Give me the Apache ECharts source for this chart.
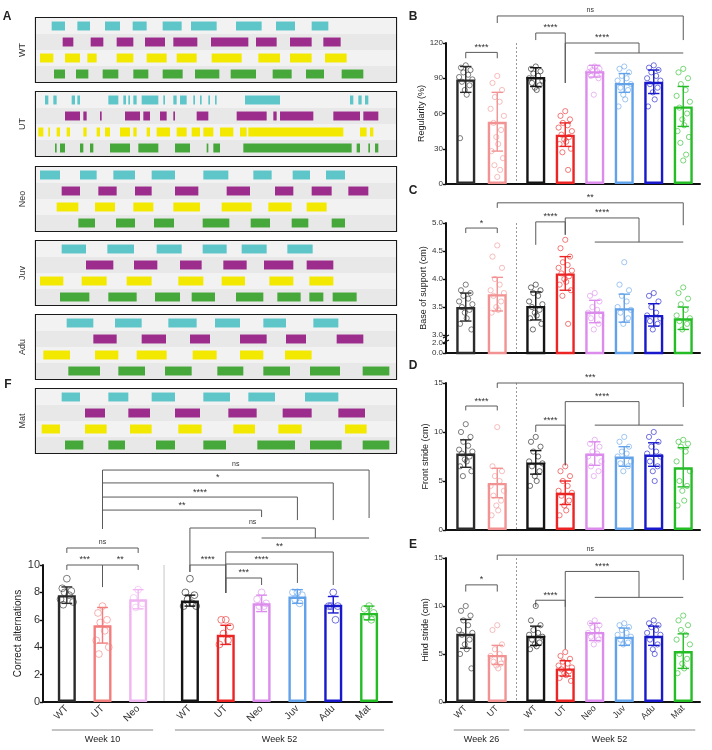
<!DOCTYPE html>
<html lang="en">
<head>
<meta charset="utf-8" />
<title>Gait and spontaneous alternation</title>
<script src="https://cdn.jsdelivr.net/npm/echarts@6/dist/echarts.min.js"></script>
<style>
  html, body { margin: 0; padding: 0; background: #fff; }
  #main { width: 712px; height: 750px; }
</style>
</head>
<body>
<div id="main"></div>
<script>
// ---------- A: footfall patterns, [start, end] per paw row (time units 0-108) ----------
const stepGroups = ['WT', 'UT', 'Neo', 'Juv', 'Adu', 'Mat'];
const pawRows = ['paw 1', 'paw 2', 'paw 3', 'paw 4'];

const stepsWT = [
  [[4.7,8.7],[12.4,16.2],[20.7,25.2],[29.0,33.2],[38.0,43.7],[46.5,54.2],[60.0,67.7],[72.0,77.7],[82.7,87.7]],
  [[8.0,11.2],[16.4,20.2],[24.2,29.2],[32.7,38.7],[41.2,48.4],[52.5,63.7],[66.0,72.2],[76.2,82.7],[86.2,91.4]],
  [[1.2,5.2],[8.7,13.2],[15.4,18.2],[24.2,29.2],[33.2,39.2],[42.2,48.2],[52.7,61.7],[66.7,73.2],[76.2,82.7],[86.7,93.2]],
  [[5.4,8.7],[12.0,15.7],[20.0,24.7],[29.2,33.7],[38.0,44.0],[47.7,55.0],[58.4,66.0],[71.0,76.7],[81.0,86.4],[91.7,98.2]]
];
const stepsUT = [
  [[2.7,3.7],[5.2,6.2],[10.7,11.7],[12.4,13.2],[21.7,24.7],[26.2,27.0],[27.7,28.2],[29.2,30.2],[31.7,36.7],[38.2,38.7],[41.2,42.2],[43.2,45.2],[47.2,47.7],[49.2,49.7],[51.7,52.2],[53.7,54.2],[62.7,73.2],[94.2,95.2],[96.7,97.7],[98.7,99.7]],
  [[8.7,13.2],[14.2,15.2],[19.2,19.7],[26.7,31.2],[32.2,34.2],[37.2,39.2],[41.2,41.7],[48.2,51.7],[60.2,69.2],[71.2,72.2],[73.2,83.2],[89.2,97.2],[98.2,102.7]],
  [[0.7,2.2],[3.7,4.2],[6.2,7.2],[9.2,10.2],[14.2,15.2],[18.2,19.2],[20.7,22.2],[25.2,28.2],[29.2,30.2],[33.2,34.2],[36.2,40.2],[42.2,45.2],[46.7,49.2],[50.2,53.2],[55.2,59.2],[61.2,63.2],[63.7,92.2],[97.2,99.2],[100.2,101.2]],
  [[5.7,6.2],[7.2,8.7],[13.2,14.2],[16.2,17.2],[22.2,28.2],[30.7,36.7],[41.7,46.2],[51.2,51.7],[53.2,55.2],[62.2,94.7],[96.2,97.2],[99.7,100.2],[101.7,102.7]]
];
const stepsNeo = [
  [[1.2,7.2],[13.2,18.2],[23.2,29.7],[34.7,41.7],[50.2,57.7],[65.2,70.7],[77.0,82.2],[87.0,92.7]],
  [[7.7,13.2],[18.7,24.2],[29.7,34.7],[41.7,48.7],[57.2,64.2],[71.7,77.2],[82.7,88.7],[93.7,99.7]],
  [[6.2,12.7],[17.7,23.7],[29.2,35.2],[41.2,49.2],[55.7,64.7],[69.7,76.7],[81.2,87.2]],
  [[12.7,17.7],[24.0,29.7],[35.4,41.4],[50.0,58.0],[64.4,70.2],[76.7,81.7],[88.7,92.7]]
];
const stepsJuv = [
  [[7.7,15.0],[21.4,29.4],[36.2,43.7],[50.0,57.2],[61.7,69.2],[75.4,83.0]],
  [[15.0,23.2],[29.4,36.4],[43.2,49.7],[56.2,63.2],[68.4,77.2],[81.2,89.2]],
  [[1.2,8.2],[13.7,21.2],[27.2,34.7],[42.7,50.2],[55.7,62.7],[70.0,77.2],[82.0,89.2]],
  [[7.2,16.0],[21.7,30.2],[35.7,43.2],[46.7,53.7],[60.0,68.2],[72.4,79.4],[82.0,86.2],[89.0,96.2]]
];
const stepsAdu = [
  [[9.2,17.2],[23.7,31.7],[39.7,48.2],[53.7,61.2],[68.2,75.0],[83.2,90.7]],
  [[17.2,24.2],[31.7,39.0],[46.2,52.2],[61.2,69.2],[75.0,81.0],[90.2,98.2]],
  [[2.2,10.2],[17.7,24.7],[30.2,39.2],[47.0,54.2],[61.2,68.2],[74.7,82.7]],
  [[9.7,19.2],[24.7,32.7],[38.7,46.7],[54.4,62.2],[68.2,76.2],[82.2,91.2],[98.0,106.0]]
];
const stepsMat = [
  [[7.7,13.2],[21.7,27.7],[34.7,41.7],[50.2,58.2],[63.7,71.7],[80.7,90.7]],
  [[14.7,20.7],[27.7,34.2],[41.7,49.2],[57.7,66.2],[74.0,82.7],[90.7,98.7]],
  [[1.7,7.2],[14.7,21.2],[28.2,34.7],[42.7,49.7],[59.2,65.7],[72.7,79.7],[92.7,99.2]],
  [[8.7,14.2],[21.7,26.7],[36.0,41.7],[50.2,57.0],[66.4,77.7],[82.2,91.7],[98.0,106.0]]
];
const allSteps = [stepsWT, stepsUT, stepsNeo, stepsJuv, stepsAdu, stepsMat];

// ---------- B-E: gait parameters ----------
const week26 = ['WT', 'UT'];
const week52 = ['WT', 'UT', 'Neo', 'Juv', 'Adu', 'Mat'];

const regMean26 = [89, 53];
const regSd26 = [11, 25];
const regMean52 = [91, 42, 96, 86, 87, 66];
const regSd52 = [8, 10, 5, 8, 10, 17];
const regPts26 = [
  [101, 99, 97, 95, 93, 91, 89, 87, 84, 80, 76, 39],
  [92, 86, 80, 74, 70, 64, 58, 52, 46, 40, 34, 28, 22, 16, 12, 6]
];
const regPts52 = [
  [100, 98, 96, 94, 92, 90, 88, 86, 84, 82, 80],
  [62, 58, 55, 52, 50, 48, 45, 42, 40, 38, 36, 34, 30, 27, 12],
  [100, 99, 98, 97, 96, 95, 94, 92, 90, 76],
  [100, 98, 95, 92, 90, 88, 85, 82, 80, 76, 72, 66],
  [101, 99, 97, 95, 92, 90, 88, 85, 82, 78, 72, 66],
  [98, 95, 90, 85, 80, 75, 70, 65, 60, 55, 50, 45, 40, 35, 25, 20]
];

const bosMean26 = [3.5, 3.73];
const bosSd26 = [0.25, 0.3];
const bosMean52 = [3.52, 4.1, 3.42, 3.48, 3.36, 3.3];
const bosSd52 = [0.25, 0.3, 0.2, 0.25, 0.2, 0.2];
const bosPts26 = [
  [3.9, 3.8, 3.75, 3.7, 3.65, 3.6, 3.55, 3.5, 3.45, 3.4, 3.3, 3.2, 3.1],
  [4.6, 4.4, 4.2, 4.0, 3.9, 3.8, 3.75, 3.7, 3.6, 3.5, 3.45, 3.4]
];
const bosPts52 = [
  [3.9, 3.85, 3.8, 3.75, 3.7, 3.6, 3.55, 3.5, 3.45, 3.4, 3.35, 3.3, 3.2, 3.1],
  [4.7, 4.55, 4.4, 4.3, 4.25, 4.2, 4.15, 4.1, 4.05, 4.0, 3.95, 3.9, 3.8, 3.7, 3.2],
  [3.75, 3.7, 3.6, 3.5, 3.45, 3.4, 3.35, 3.3, 3.2, 3.1],
  [4.3, 3.9, 3.8, 3.7, 3.6, 3.5, 3.45, 3.4, 3.3, 3.2],
  [3.75, 3.7, 3.6, 3.5, 3.4, 3.35, 3.3, 3.25, 3.2, 3.1],
  [3.85, 3.75, 3.65, 3.55, 3.45, 3.35, 3.3, 3.25, 3.2, 3.1]
];

const frontMean26 = [7.8, 4.8];
const frontSd26 = [1.4, 1.5];
const frontMean52 = [6.9, 3.8, 7.8, 7.5, 7.7, 6.4];
const frontSd52 = [1.2, 1.2, 1.2, 1.0, 1.2, 2.0];
const frontPts26 = [
  [10.8, 10, 9.5, 9, 8.6, 8.2, 8, 7.8, 7.5, 7.2, 7, 6.5, 6, 5.5],
  [10.5, 6.5, 6, 5.5, 5, 4.5, 4, 3.5, 3, 2.5, 2, 1.5]
];
const frontPts52 = [
  [9.5, 9, 8.5, 8, 7.5, 7, 6.8, 6.5, 6, 5.5, 5, 4.5],
  [6.5, 6, 5.5, 5, 4.5, 4, 3.8, 3.5, 3, 2.5, 2, 1.5],
  [9.2, 8.8, 8.5, 8, 7.8, 7.5, 7, 6.5, 6, 5.5],
  [9.5, 9, 8.5, 8, 7.8, 7.5, 7, 6.8, 6.5, 6],
  [10, 9.5, 9, 8.5, 8, 7.8, 7.5, 7, 6.5, 6, 5],
  [9.2, 9, 8.8, 8.5, 8, 7, 6, 5, 4.5, 4, 3, 2.5]
];

const hindMean26 = [7.1, 4.9];
const hindSd26 = [1.5, 1.0];
const hindMean52 = [6.9, 3.5, 7.3, 6.8, 6.9, 5.3];
const hindSd52 = [1.0, 0.8, 0.9, 0.9, 1.0, 1.8];
const hindPts26 = [
  [10, 9.5, 9, 8.5, 8, 7.5, 7.2, 7, 6.5, 6, 5.5, 5, 3.5],
  [8, 7.5, 6, 5.5, 5, 4.8, 4.5, 4.2, 4, 3.8, 3.5]
];
const hindPts52 = [
  [10, 8.5, 8, 7.5, 7.2, 7, 6.8, 6.5, 6.2, 6, 5.8, 5.5],
  [5.2, 4.8, 4.5, 4.2, 4, 3.8, 3.6, 3.4, 3.2, 3, 2.8, 2.5, 2.2],
  [8.5, 8.2, 8, 7.8, 7.5, 7.2, 7, 6.8, 6.5, 6],
  [8.2, 8, 7.8, 7.5, 7.2, 7, 6.8, 6.5, 6.2, 6],
  [8.5, 8.2, 8, 7.8, 7.5, 7.2, 7, 6.5, 6, 5.5, 5],
  [9, 8.5, 8, 7.5, 7, 6.5, 6, 5, 4.5, 4, 3.5, 3]
];

// ---------- F: correct alternations ----------
const week10 = ['WT', 'UT', 'Neo'];
const altMean10 = [7.8, 5.6, 7.5];
const altSd10 = [0.6, 1.3, 0.7];
const altMean52 = [7.4, 4.9, 7.2, 7.7, 7.1, 6.5];
const altSd52 = [0.4, 0.7, 0.6, 0.5, 0.6, 0.5];
const altPts10 = [
  [9, 8.3, 8.1, 8, 7.8, 7.5, 7.3, 7.1],
  [7, 6.5, 6, 5.8, 5.2, 4.5, 4, 3.5],
  [8.2, 7.6, 7.2, 6.9]
];
const altPts52 = [
  [9, 8, 7.8, 7.5, 7.2, 7, 7],
  [6, 6, 5.5, 5, 4.5, 4.2],
  [8, 7.5, 7.2, 7, 7],
  [8, 8, 7.8, 7.5, 7.2],
  [8, 7, 7, 7, 6],
  [7, 6.8, 6.5, 6.2, 6]
];

// significance brackets: ends as [side, category] (or [side, [from, to]] for a group),
// y = bracket level, ya / yb = where the left / right legs stop
const sigB = [
  { a: ['L', 0], b: ['L', 1], y: 112, ya: 107, yb: 107, t: '****' },
  { a: ['L', 1], b: ['R', 5], y: 143, ya: 137, yb: 122.5, t: 'ns' },
  { a: ['R', 0], b: ['R', 1], y: 128.5, ya: 122.5, yb: 86, t: '****' },
  { a: ['R', 1], b: ['R', [2, 5]], y: 120, ya: 86, yb: 111.5, t: '****' }
];
const sigC = [
  { a: ['L', 0], b: ['L', 1], y: 4.91, ya: 4.82, yb: 4.82, t: '*' },
  { a: ['L', 1], b: ['R', 5], y: 5.36, ya: 5.27, yb: 4.96, t: '**' },
  { a: ['R', 0], b: ['R', 1], y: 5.02, ya: 4.61, yb: 4.79, t: '****' },
  { a: ['R', 1], b: ['R', [2, 5]], y: 5.09, ya: 4.79, yb: 4.66, t: '****' }
];
const sigD = [
  { a: ['L', 0], b: ['L', 1], y: 12.65, ya: 12.2, yb: 12.2, t: '****' },
  { a: ['L', 1], b: ['R', 5], y: 15.0, ya: 14.5, yb: 12.55, t: '***' },
  { a: ['R', 0], b: ['R', 1], y: 10.7, ya: 10.0, yb: 6.6, t: '****' },
  { a: ['R', 1], b: ['R', [2, 5]], y: 13.1, ya: 6.6, yb: 10.7, t: '****' }
];
const sigE = [
  { a: ['L', 0], b: ['L', 1], y: 12.2, ya: 11.5, yb: 11.5, t: '*' },
  { a: ['L', 1], b: ['R', 5], y: 15.3, ya: 14.8, yb: 12.7, t: 'ns' },
  { a: ['R', 0], b: ['R', 1], y: 10.6, ya: 9.9, yb: 5.5, t: '****' },
  { a: ['R', 1], b: ['R', [2, 5]], y: 13.6, ya: 9.9, yb: 10.9, t: '****' }
];
const sigF = [
  { a: ['L', 1], b: ['R', 5], y: 16.93, ya: 12.63, yb: 13.43, t: 'ns' },
  { a: ['L', 1], b: ['R', 4], y: 15.99, ya: 12.63, yb: 13.28, t: '*' },
  { a: ['L', 1], b: ['R', 3], y: 14.96, ya: 12.63, yb: 13.28, t: '****' },
  { a: ['L', 1], b: ['R', 2], y: 14.01, ya: 12.63, yb: 13.5, t: '**' },
  { a: ['R', 0], b: ['R', [2, 5]], y: 12.7, ya: 9.49, yb: 11.97, t: 'ns' },
  { a: ['R', 1], b: ['R', 4], y: 10.95, ya: 7.96, yb: 8.54, t: '**' },
  { a: ['R', 0], b: ['R', 1], y: 10.0, ya: 9.49, yb: 7.96, t: '****' },
  { a: ['R', 1], b: ['R', 3], y: 10.07, ya: 7.96, yb: 8.69, t: '****' },
  { a: ['R', 1], b: ['R', 2], y: 9.05, ya: 7.96, yb: 8.54, t: '***' },
  { a: ['L', 0], b: ['L', 2], y: 11.24, ya: 10.88, yb: 10.88, t: 'ns' },
  { a: ['L', 0], b: ['L', 1], y: 10.0, ya: 9.64, yb: 8.39, t: '***' },
  { a: ['L', 1], b: ['L', 2], y: 10.0, ya: 8.39, yb: 9.64, t: '**' }
];

// ---------- styles ----------
const FONT = '"Liberation Sans", Arial, sans-serif';
const pawColors = ['#5ec6c9', '#9c2d8c', '#f3e900', '#46a83a'];
const col26 = ['#2b2b2b', '#f29292'];
const col52 = ['#151515', '#ec2424', '#dc8cec', '#62a2ea', '#1818cc', '#25bd25'];
const col10 = ['#2b2b2b', '#f27d7d', '#f0b6f2'];
const JITTER = [0, -5, 5, -2.5, 2.5, -7, 7, -4, 4, -1, 1, -6, 6, -3, 3, 0];

const chart = echarts.init(document.getElementById('main'));
const option = {
  animation: false,
  backgroundColor: '#fff',
  textStyle: { fontFamily: FONT },
  grid: [], xAxis: [], yAxis: [], series: []
};

let nGrid = 0;
function addGrid(grid, xAxis, yAxis) {
  option.grid.push(grid);
  option.xAxis.push(Object.assign({ gridIndex: nGrid }, xAxis));
  option.yAxis.push(Object.assign({ gridIndex: nGrid }, yAxis));
  return nGrid++;
}

// ---- A ----
const boxTops = [18, 92, 167, 241, 315, 389];
function stepItem(params, api) {
  const a = api.coord([api.value(0), api.value(2)]);
  const b = api.coord([api.value(1), api.value(2)]);
  const h = api.size([0, 1])[1] * 0.56;
  return {
    type: 'rect',
    shape: { x: a[0], y: a[1] - h / 2, width: b[0] - a[0], height: h },
    style: { fill: api.visual('color') }
  };
}
stepGroups.forEach((name, k) => {
  const g = addGrid(
    { left: 36, top: boxTops[k], width: 360, height: 64, show: true, borderColor: '#1a1a1a', borderWidth: 2.2, backgroundColor: 'transparent' },
    { type: 'value', min: 0, max: 108, show: false },
    {
      type: 'category', data: pawRows, inverse: true,
      name: name, nameLocation: 'middle', nameGap: 9, nameRotate: 90,
      nameTextStyle: { fontSize: 9, color: '#333' },
      axisLine: { show: false }, axisTick: { show: false }, axisLabel: { show: false },
      splitArea: { show: true, areaStyle: { color: ['#f3f2f2', '#e9e8e8'] } }
    }
  );
  allSteps[k].forEach((row, r) => {
    option.series.push({
      type: 'custom', xAxisIndex: g, yAxisIndex: g, silent: true,
      itemStyle: { color: pawColors[r] },
      data: row.map(s => [s[0], s[1], r]),
      renderItem: stepItem
    });
  });
});

// ---- bar panels ----
function barSeries(g, means, sds, pts, colors, barWidth, r) {
  option.series.push({
    type: 'bar', xAxisIndex: g, yAxisIndex: g, barWidth: barWidth, z: 2, silent: true,
    data: means.map((m, i) => ({
      value: m,
      itemStyle: { color: 'rgba(255,255,255,0)', borderColor: colors[i], borderWidth: 2.4 }
    }))
  });
  option.series.push({
    type: 'custom', xAxisIndex: g, yAxisIndex: g, z: 3, silent: true,
    data: pts.flatMap((arr, i) => arr.map((v, j) => [i, v, j])),
    renderItem: (params, api) => {
      const i = api.value(0);
      const c = api.coord([i, api.value(1)]);
      const dx = JITTER[api.value(2) % JITTER.length] * barWidth / 20;
      return {
        type: 'circle', shape: { cx: c[0] + dx, cy: c[1], r: r },
        style: { fill: 'rgba(255,255,255,0)', stroke: colors[i], lineWidth: 1, opacity: 0.6 }
      };
    }
  });
  option.series.push({
    type: 'custom', xAxisIndex: g, yAxisIndex: g, z: 4, silent: true,
    data: means.map((m, i) => [i, m - sds[i], m + sds[i]]),
    renderItem: (params, api) => {
      const i = api.value(0);
      const lo = api.coord([i, api.value(1)]);
      const hi = api.coord([i, api.value(2)]);
      const w = barWidth * 0.3;
      const st = { stroke: colors[i], lineWidth: 1.4 };
      return {
        type: 'group', children: [
          { type: 'line', shape: { x1: lo[0], y1: lo[1], x2: hi[0], y2: hi[1] }, style: st },
          { type: 'line', shape: { x1: hi[0] - w, y1: hi[1], x2: hi[0] + w, y2: hi[1] }, style: st },
          { type: 'line', shape: { x1: lo[0] - w, y1: lo[1], x2: lo[0] + w, y2: lo[1] }, style: st }
        ]
      };
    }
  });
}

function addBarPanel(p) {
  const yAxisFrame = {
    type: 'value', min: p.min, max: p.max, interval: p.interval,
    name: p.name, nameLocation: 'middle', nameGap: p.nameGap, nameRotate: 90,
    nameTextStyle: { fontSize: p.nameSize, color: '#222' },
    axisLine: { show: true, lineStyle: { color: '#111', width: 2 } },
    axisTick: { show: true, length: 3, lineStyle: { color: '#111', width: 1.4 } },
    axisLabel: { fontSize: p.labelSize, color: '#333', margin: 3 },
    splitLine: { show: false }
  };
  if (p.customTicks) {
    delete yAxisFrame.interval;
    yAxisFrame.axisLabel.customValues = p.customTicks;
    yAxisFrame.axisLabel.formatter = p.tickFormat;
    yAxisFrame.axisTick.customValues = p.customTicks;
  }
  p.frame = addGrid(
    { left: p.left, top: p.top, width: p.width, height: p.height },
    {
      type: 'value', min: 0, max: 1,
      axisLine: { onZero: false, lineStyle: { color: '#111', width: 2 } },
      axisTick: { show: false }, axisLabel: { show: false }, splitLine: { show: false }
    },
    yAxisFrame
  );
  const xCat = cats => ({
    type: 'category', data: cats,
    axisLine: { show: false }, axisTick: { show: false },
    axisLabel: p.showCats ? { rotate: 45, fontSize: p.catSize, color: '#333', margin: 5, interval: 0 } : { show: false }
  });
  const yHidden = { type: 'value', min: p.min, max: p.max, show: false };
  p.gL = addGrid({ left: p.leftL, top: p.top, width: p.widthL, height: p.height }, xCat(p.catsL), yHidden);
  p.gR = addGrid({ left: p.leftR, top: p.top, width: p.widthR, height: p.height }, xCat(p.catsR), yHidden);
  barSeries(p.gL, p.meanL, p.sdL, p.ptsL, p.colL, p.barWidth, p.r);
  barSeries(p.gR, p.meanR, p.sdR, p.ptsR, p.colR, p.barWidth, p.r);
}

const sideBase = {
  left: 446, width: 254, leftL: 450, widthL: 63, leftR: 521, widthR: 177,
  catsL: week26, catsR: week52, colL: col26, colR: col52,
  barWidth: 19, r: 2.6, nameGap: 15, nameSize: 9, labelSize: 8, catSize: 9, divider: 'dashed'
};
const panels = [
  Object.assign({}, sideBase, {
    top: 43, height: 141, min: 0, max: 120, interval: 30, name: 'Regularity (%)',
    meanL: regMean26, sdL: regSd26, ptsL: regPts26, meanR: regMean52, sdR: regSd52, ptsR: regPts52, sig: sigB
  }),
  Object.assign({}, sideBase, {
    top: 223, height: 130, min: 2.68, max: 5.0, name: 'Base of support (cm)',
    customTicks: [2.68, 2.86, 3.0, 3.5, 4.0, 4.5, 5.0],
    tickFormat: v => (v < 2.7 ? '0.0' : v < 2.9 ? '2.0' : v.toFixed(1)),
    meanL: bosMean26, sdL: bosSd26, ptsL: bosPts26, meanR: bosMean52, sdR: bosSd52, ptsR: bosPts52, sig: sigC, broken: true
  }),
  Object.assign({}, sideBase, {
    top: 383, height: 147, min: 0, max: 15, interval: 5, name: 'Front stride (cm)',
    meanL: frontMean26, sdL: frontSd26, ptsL: frontPts26, meanR: frontMean52, sdR: frontSd52, ptsR: frontPts52, sig: sigD
  }),
  Object.assign({}, sideBase, {
    top: 558, height: 144, min: 0, max: 15, interval: 5, name: 'Hind stride (cm)', showCats: true,
    meanL: hindMean26, sdL: hindSd26, ptsL: hindPts26, meanR: hindMean52, sdR: hindSd52, ptsR: hindPts52, sig: sigE,
    weeks: ['Week 26', 'Week 52'], weekPad: 12
  }),
  {
    left: 43, width: 349, leftL: 49, widthL: 107, leftR: 172, widthR: 215,
    catsL: week10, catsR: week52, colL: col10, colR: col52,
    barWidth: 18, r: 3.4, nameGap: 20, nameSize: 10, labelSize: 11, catSize: 10, divider: 'solid',
    top: 565, height: 137, min: 0, max: 10, interval: 2, name: 'Correct alternations', showCats: true,
    meanL: altMean10, sdL: altSd10, ptsL: altPts10, meanR: altMean52, sdR: altSd52, ptsR: altPts52, sig: sigF,
    weeks: ['Week 10', 'Week 52'], weekPad: 15
  }
];
panels.forEach(addBarPanel);

chart.setOption(option);

// ---- annotations placed through the axes ----
function xOf(p, side, idx) {
  return chart.convertToPixel({ xAxisIndex: side === 'L' ? p.gL : p.gR }, idx);
}
function yOf(p, v) {
  return chart.convertToPixel({ yAxisIndex: p.frame }, v);
}
const gfx = [];
const LINE = { stroke: '#5a5a5a', lineWidth: 1, fill: null };
function addText(x, y, s, size, extra) {
  gfx.push({
    type: 'text', x: x, y: y, silent: true,
    style: Object.assign({
      text: s, font: size + 'px ' + FONT, fill: '#222',
      align: 'center', verticalAlign: 'middle', textAlign: 'center', textVerticalAlign: 'middle'
    }, extra || {})
  });
}
function addLine(pts, style) {
  gfx.push({ type: 'polyline', silent: true, shape: { points: pts }, style: Object.assign({}, LINE, style || {}) });
}

panels.forEach(p => {
  const top = p.top, bottom = p.top + p.height;
  // divider between the age groups
  const xd = (xOf(p, 'L', p.catsL.length - 1) + xOf(p, 'R', 0)) / 2;
  addLine([[xd, top], [xd, bottom]], p.divider === 'dashed'
    ? { stroke: '#9a9a9a', lineDash: [2, 2] }
    : { stroke: '#cfcfcf', lineWidth: 1.2 });

  p.sig.forEach(b => {
    const xa = xOf(p, b.a[0], b.a[1]);
    const y = yOf(p, b.y), ya = yOf(p, b.ya), yb = yOf(p, b.yb);
    let xb;
    if (Array.isArray(b.b[1])) {
      const g1 = xOf(p, b.b[0], b.b[1][0]), g2 = xOf(p, b.b[0], b.b[1][1]);
      xb = (g1 + g2) / 2;
      addLine([[g1, yb], [g2, yb]]);
    } else {
      xb = xOf(p, b.b[0], b.b[1]);
    }
    addLine([[xa, ya], [xa, y], [xb, y], [xb, yb]]);
    const isNs = b.t === 'ns';
    addText((xa + xb) / 2, y - (isNs ? 6 : 5), b.t, isNs ? 7 : 9, { fill: '#333' });
  });

  if (p.broken) {
    const x0 = p.left, yk = (yOf(p, 3.0) + yOf(p, 2.86)) / 2;
    gfx.push({ type: 'rect', silent: true, shape: { x: x0 - 3, y: yk - 2, width: 6, height: 4 }, style: { fill: '#fff' } });
    addLine([[x0 - 3, yk - 1], [x0 + 3, yk - 4]], { stroke: '#111', lineWidth: 1.2 });
    addLine([[x0 - 3, yk + 4], [x0 + 3, yk + 1]], { stroke: '#111', lineWidth: 1.2 });
  }

  if (p.weeks) {
    const yl = bottom + 28;
    [['L', p.catsL, p.weeks[0]], ['R', p.catsR, p.weeks[1]]].forEach(w => {
      const x1 = xOf(p, w[0], 0) - p.weekPad;
      const x2 = xOf(p, w[0], w[1].length - 1) + p.weekPad;
      addLine([[x1, yl], [x2, yl]], { stroke: '#8a8a8a', lineWidth: 1.2 });
      addText((x1 + x2) / 2, yl + 10, w[2], 9);
    });
  }
});

[['A', 7, 17], ['B', 413, 17], ['C', 413, 191], ['D', 413, 366], ['E', 413, 545], ['F', 8, 385]].forEach(l => {
  addText(l[1], l[2], l[0], 9, { fontWeight: 'bold', font: 'bold 9px ' + FONT });
});

chart.setOption({ graphic: gfx });
</script>
</body>
</html>
